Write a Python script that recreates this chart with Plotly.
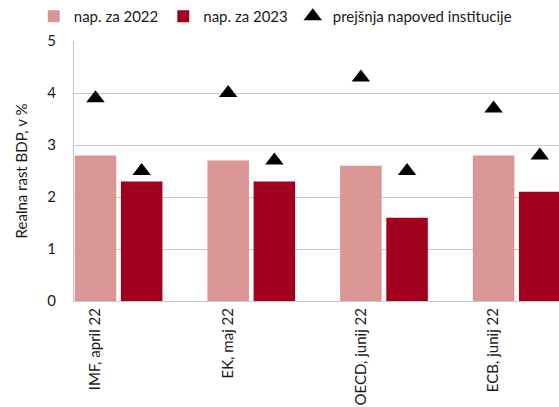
import plotly.graph_objects as go

categories = ["IMF, april 22", "EK, maj 22", "OECD, junij 22", "ECB, junij 22"]
nap_2022 = [2.8, 2.7, 2.6, 2.8]
nap_2023 = [2.3, 2.3, 1.6, 2.1]
prejsnja_2022 = [3.9, 4.0, 4.3, 3.7]
prejsnja_2023 = [2.5, 2.7, 2.5, 2.8]
y_ticks = [0, 1, 2, 3, 4, 5]

C22 = "#D99694"
C23 = "#A0001E"
OFF = 0.348
BW = 0.313
FONT = "Lato"

x22 = list(range(len(categories)))
x23 = [i + OFF for i in x22]

fig = go.Figure()
fig.add_bar(x=x22, y=nap_2022, width=BW, name="nap. za 2022",
            marker=dict(color=C22, line=dict(width=0)))
fig.add_bar(x=x23, y=nap_2023, width=BW, name="nap. za 2023",
            marker=dict(color=C23, line=dict(width=0)))
fig.add_scatter(x=x22 + x23, y=prejsnja_2022 + prejsnja_2023, mode="markers",
                name="prejšnja napoved institucije", cliponaxis=False,
                marker=dict(symbol="triangle-up", size=16, color="black"))

fig.update_layout(
    width=559, height=407,
    margin=dict(l=74, r=0, t=40, b=106),
    paper_bgcolor="white", plot_bgcolor="white",
    font=dict(family=FONT, size=14, color="#1a1a1a"),
    barmode="overlay",
    showlegend=True,
    legend=dict(orientation="h", x=0.415, xanchor="center", y=1.096, yanchor="middle",
                font=dict(size=15), itemwidth=30, tracegroupgap=0),
    xaxis=dict(range=[-0.162, 3.493], tickmode="array", tickvals=x22, ticktext=categories,
               tickangle=-90, showgrid=False, showline=True, linecolor="#c8c8c8",
               linewidth=1, ticks="", tickfont=dict(size=15), zeroline=False),
    yaxis=dict(range=[0, 5], tickvals=y_ticks, showgrid=True, gridcolor="#c8c8c8",
               gridwidth=1, showline=True, linecolor="#c8c8c8", linewidth=1,
               zeroline=False, ticks="", ticklabelstandoff=14, tickfont=dict(size=15),
               title=dict(text="Realna rast BDP, v %", font=dict(size=15), standoff=16)),
)

fig.write_html("out.html", config={"displayModeBar": False},
               post_script="document.body.style.margin='0';document.body.style.overflow='hidden';")
